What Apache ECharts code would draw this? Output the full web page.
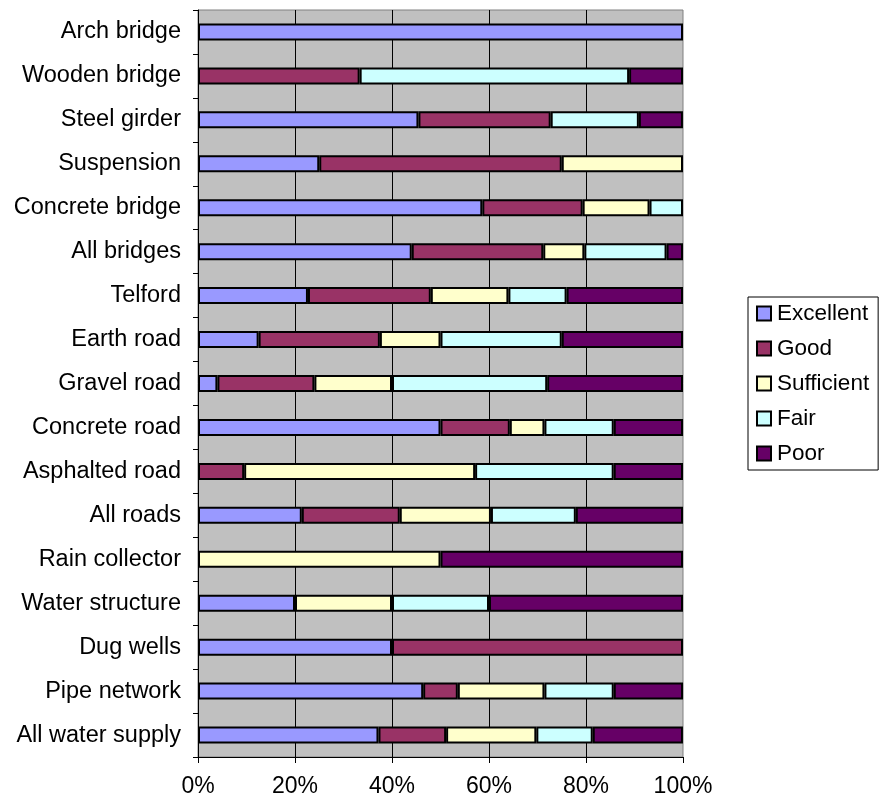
<!DOCTYPE html>
<html>
<head>
<meta charset="utf-8">
<script src="https://cdn.jsdelivr.net/npm/echarts@6/dist/echarts.min.js"></script>
<style>
  html, body { margin: 0; padding: 0; background: #fff; }
  #chart { width: 883px; height: 803px; }
</style>
</head>
<body>
<div id="chart"></div>
<script>
const categories = [
  'Arch bridge', 'Wooden bridge', 'Steel girder', 'Suspension', 'Concrete bridge',
  'All bridges', 'Telford', 'Earth road', 'Gravel road', 'Concrete road',
  'Asphalted road', 'All roads', 'Rain collector', 'Water structure', 'Dug wells',
  'Pipe network', 'All water supply'
];

// shares in percent
const excellent  = [100, 0, 45.45, 25, 58.62, 44.07, 22.67, 12.5, 4, 50, 0, 21.4, 0, 20, 40, 46.43, 37.21];
const good       = [0, 33.33, 27.27, 50, 20.69, 27.12, 25.33, 25, 20, 14.29, 9.52, 20.2, 0, 0, 60, 7.14, 13.95];
const sufficient = [0, 0, 0, 25, 13.79, 8.47, 16, 12.5, 16, 7.14, 47.62, 18.8, 50, 20, 0, 17.86, 18.60];
const fair       = [0, 55.56, 18.18, 0, 6.90, 16.95, 12, 25, 32, 14.29, 28.57, 17.5, 0, 20, 0, 14.29, 11.63];
const poor       = [0, 11.11, 9.09, 0, 0, 3.39, 24, 25, 28, 14.29, 14.29, 22.1, 50, 40, 0, 14.29, 18.60];

const xTicks = [0, 20, 40, 60, 80, 100];

const font = '"Liberation Sans", Arial, sans-serif';

const seriesDefs = [
  { name: 'Excellent', data: excellent, color: '#9999FF' },
  { name: 'Good', data: good, color: '#993366' },
  { name: 'Sufficient', data: sufficient, color: '#FFFFCC' },
  { name: 'Fair', data: fair, color: '#CCFFFF' },
  { name: 'Poor', data: poor, color: '#660066' }
];

const chart = echarts.init(document.getElementById('chart'), null, { renderer: 'canvas' });

const options = {
  animation: false,
  backgroundColor: '#ffffff',
  textStyle: { fontFamily: font, color: '#000' },
  grid: {
    left: 198, right: 200, top: 10, bottom: 46,
    show: true,
    backgroundColor: '#C0C0C0',
    borderColor: '#808080',
    borderWidth: 1
  },
  legend: {
    orient: 'vertical',
    left: 748,
    top: 297,
    padding: [5, 9, 5, 8],
    itemGap: 12,
    itemWidth: 14,
    itemHeight: 14,
    borderColor: '#000',
    borderWidth: 1,
    backgroundColor: '#fff',
    icon: 'rect',
    itemStyle: { borderColor: '#000', borderWidth: 2 },
    textStyle: { fontFamily: font, fontSize: 22.5, color: '#000', padding: [0, 0, 0, 1], lineHeight: 22 },
    data: seriesDefs.map(s => s.name)
  },
  xAxis: {
    type: 'value',
    min: xTicks[0],
    max: xTicks[xTicks.length - 1],
    interval: 20,
    axisLine: { show: true, lineStyle: { color: '#000', width: 1 } },
    axisTick: { show: true, length: 6, lineStyle: { color: '#000' } },
    axisLabel: {
      fontFamily: font, fontSize: 23, color: '#000', margin: 18,
      formatter: v => v + '%'
    },
    splitLine: { show: true, showMinLine: false, showMaxLine: false, lineStyle: { color: '#000', width: 1 } }
  },
  yAxis: {
    type: 'category',
    inverse: true,
    data: categories,
    axisLine: { show: true, lineStyle: { color: '#000', width: 1 } },
    axisTick: { show: true, length: 5, lineStyle: { color: '#000' } },
    axisLabel: { fontFamily: font, fontSize: 23.5, color: '#000', margin: 17 },
    splitLine: { show: false }
  },
  series: seriesDefs.map(s => ({
    name: s.name,
    type: 'bar',
    stack: 'total',
    barWidth: 17,
    itemStyle: { color: s.color, borderColor: '#000', borderWidth: 2 },
    emphasis: { disabled: true },
    data: s.data.map(v => (v === 0 ? '-' : v))
  }))
};

chart.setOption(options);
</script>
</body>
</html>
